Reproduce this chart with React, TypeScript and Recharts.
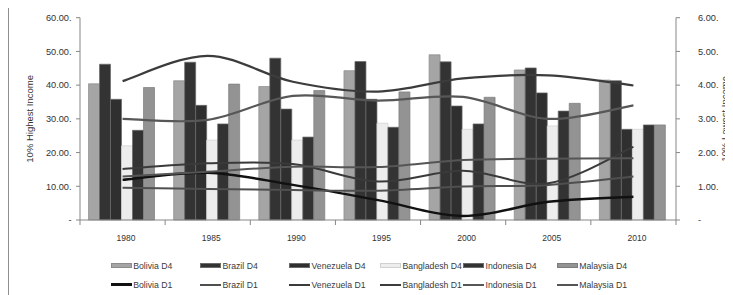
import React from 'react';
import { ComposedChart, Bar, Line, XAxis, YAxis, Legend } from 'recharts';

// ---------- data ----------
const years = ['1980', '1985', '1990', '1995', '2000', '2005', '2010'];

const boliviaD4 = [40.4, 41.3, 39.6, 44.3, 49.0, 44.5, 41.5];
const brazilD4 = [46.2, 46.8, 48.0, 47.0, 46.9, 45.1, 41.3];
const venezuelaD4 = [35.8, 34.0, 32.9, 35.8, 33.8, 37.7, 26.9];
const bangladeshD4 = [22.0, 23.7, 23.7, 28.7, 26.9, 27.9, 26.9];
const indonesiaD4 = [26.6, 28.5, 24.6, 27.5, 28.5, 32.3, 28.2];
const malaysiaD4 = [39.3, 40.3, 38.4, 38.0, 36.4, 34.6, 28.2];

const boliviaD1 = [1.19, 1.4, 1.04, 0.59, 0.12, 0.54, 0.69];
const brazilD1 = [0.96, 0.92, 0.89, 0.87, 0.99, 1.04, 1.29];
const venezuelaD1 = [1.51, 1.68, 1.66, 1.14, 1.46, 1.09, 2.17];
const bangladeshD1 = [4.12, 4.87, 4.1, 3.81, 4.2, 4.29, 3.99];
const indonesiaD1 = [3.0, 2.97, 3.68, 3.54, 3.65, 3.0, 3.4];
const malaysiaD1 = [1.29, 1.43, 1.58, 1.57, 1.78, 1.82, 1.83];

const leftTicks = [0, 10, 20, 30, 40, 50, 60];
const rightTicks = [0, 1, 2, 3, 4, 5, 6];

const leftTitle = '10% Highest Income';
const rightTitle = '10% Lowest Income';

// ---------- series (names + styles) ----------
const barSeries = [
  { name: 'Bolivia D4', values: boliviaD4, fill: '#a5a5a5', stroke: '#8c8c8c' },
  { name: 'Brazil D4', values: brazilD4, fill: '#333333', stroke: '#6a6a6a' },
  { name: 'Venezuela D4', values: venezuelaD4, fill: '#2f2f2f', stroke: '#6a6a6a' },
  { name: 'Bangladesh D4', values: bangladeshD4, fill: '#ededed', stroke: '#d0d0d0' },
  { name: 'Indonesia D4', values: indonesiaD4, fill: '#333333', stroke: '#6a6a6a' },
  { name: 'Malaysia D4', values: malaysiaD4, fill: '#939393', stroke: '#7d7d7d' },
];

const lineSeries = [
  { name: 'Bolivia D1', values: boliviaD1, stroke: '#111111', width: 2.4 },
  { name: 'Brazil D1', values: brazilD1, stroke: '#4f4f4f', width: 2 },
  { name: 'Venezuela D1', values: venezuelaD1, stroke: '#3a3a3a', width: 2 },
  { name: 'Bangladesh D1', values: bangladeshD1, stroke: '#3c3c3c', width: 2.2 },
  { name: 'Indonesia D1', values: indonesiaD1, stroke: '#575757', width: 2.2 },
  { name: 'Malaysia D1', values: malaysiaD1, stroke: '#555555', width: 2 },
];

const data = years.map((year, i) => {
  const row: Record<string, any> = { year };
  barSeries.forEach((s) => (row[s.name] = s.values[i]));
  lineSeries.forEach((s) => (row[s.name] = s.values[i]));
  return row;
});

// ---------- layout ----------
const FONT = '"Liberation Sans", Arial, sans-serif';
const AXIS = '#878787';
const TEXT = '#333333';
const W = 725;
const H = 288;
const legendColumns = [102.7, 192, 281, 372, 455, 548.7];

const fmt = (v: number) => (v === 0 ? '-' : v.toFixed(2) + '.');

// Excel-like smoothed line (Catmull-Rom through the points)
const excelSmooth: any = (context: any) => {
  let pts: number[][] = [];
  return {
    areaStart() {},
    areaEnd() {},
    lineStart() {
      pts = [];
    },
    point(x: number, y: number) {
      pts.push([+x, +y]);
    },
    lineEnd() {
      const n = pts.length;
      if (!n) return;
      context.moveTo(pts[0][0], pts[0][1]);
      for (let i = 0; i < n - 1; i++) {
        const p0 = pts[Math.max(i - 1, 0)];
        const p1 = pts[i];
        const p2 = pts[i + 1];
        const p3 = pts[Math.min(i + 2, n - 1)];
        context.bezierCurveTo(
          p1[0] + (p2[0] - p0[0]) / 6,
          p1[1] + (p2[1] - p0[1]) / 6,
          p2[0] - (p3[0] - p1[0]) / 6,
          p2[1] - (p3[1] - p1[1]) / 6,
          p2[0],
          p2[1]
        );
      }
    },
  };
};

const CatTick = (props: any) => {
  const { x, y, payload, index, visibleTicksCount } = props;
  const half = payload && typeof payload.offset === 'number' && payload.offset > 0 ? payload.offset : 42.57;
  const last = (visibleTicksCount ?? years.length) - 1;
  return (
    <g>
      <line x1={x - half} x2={x - half} y1={y - 5} y2={y} stroke={AXIS} strokeWidth={1} />
      {index === last && <line x1={x + half} x2={x + half} y1={y - 5} y2={y} stroke={AXIS} strokeWidth={1} />}
      <text x={x + 3.5} y={y + 16} textAnchor="middle" fontFamily={FONT} fontSize={8.5} fill={TEXT}>
        {payload.value}
      </text>
    </g>
  );
};

const LeftTitle = (props: any) => {
  const vb = props.viewBox || { x: 0, y: 10.7, width: 72, height: 202.3 };
  const cx = vb.x + 22;
  const cy = vb.y + vb.height / 2;
  return (
    <text x={cx} y={cy} transform={`rotate(-90 ${cx} ${cy})`} textAnchor="middle" dominantBaseline="central" fontFamily={FONT} fontSize={9.5} fill={TEXT}>
      {leftTitle}
    </text>
  );
};

const RightTitle = (props: any) => {
  const vb = props.viewBox || { x: 668, y: 10.7, width: 57, height: 202.3 };
  const cx = vb.x + 49;
  const cy = vb.y + vb.height / 2;
  return (
    <text x={cx} y={cy} transform={`rotate(-90 ${cx} ${cy})`} textAnchor="middle" dominantBaseline="central" fontFamily={FONT} fontSize={9.5} fill={TEXT}>
      {rightTitle}
    </text>
  );
};

const LegendContent = () => (
  <div style={{ position: 'relative', width: W, height: 40, fontFamily: FONT, fontSize: 8.7, color: '#3a3a3a' }}>
    {barSeries.map((s, i) => (
      <div key={s.name} style={{ position: 'absolute', left: legendColumns[i], top: 4, height: 13, display: 'flex', alignItems: 'center', whiteSpace: 'nowrap' }}>
        <span style={{ display: 'inline-block', boxSizing: 'border-box', width: 21, height: 5, background: s.fill, border: `0.5px solid ${s.stroke}`, marginRight: 1.5 }} />
        <span>{s.name}</span>
      </div>
    ))}
    {lineSeries.map((s, i) => (
      <div key={s.name} style={{ position: 'absolute', left: legendColumns[i], top: 23, height: 13, display: 'flex', alignItems: 'center', whiteSpace: 'nowrap' }}>
        <span style={{ display: 'inline-block', width: 21, height: s.name === 'Bolivia D1' ? 2.4 : 2, background: s.stroke, marginRight: 1.5 }} />
        <span>{s.name}</span>
      </div>
    ))}
  </div>
);

export default function App() {
  return (
    <div style={{ position: 'relative', width: W, height: H, marginTop: -1 }}>
      <style>{'html,body{overflow:hidden}'}</style>
      <ComposedChart
        width={W}
        height={H}
        data={data}
        margin={{ top: 10.7, right: 0, bottom: 45, left: 0 }}
        barCategoryGap="10%"
        barGap={0}
      >
        <XAxis
          xAxisId="x"
          dataKey="year"
          height={30}
          axisLine={{ stroke: AXIS }}
          tickLine={false}
          tickSize={5}
          tickMargin={0}
          interval={0}
          tick={<CatTick />}
        />
        <YAxis
          yAxisId="l"
          width={72}
          domain={[0, 60]}
          ticks={leftTicks}
          interval={0}
          tickFormatter={fmt}
          axisLine={{ stroke: AXIS }}
          tickLine={{ stroke: AXIS }}
          tickSize={4}
          tickMargin={4.5}
          tick={{ fontFamily: FONT, fontSize: 9.2, fill: TEXT }}
          label={{ content: <LeftTitle /> }}
        />
        <YAxis
          yAxisId="r"
          orientation="right"
          width={57}
          domain={[0, 6]}
          ticks={rightTicks}
          interval={0}
          tickFormatter={fmt}
          axisLine={{ stroke: AXIS }}
          tickLine={{ stroke: AXIS }}
          tickSize={4}
          tickMargin={18}
          tick={{ fontFamily: FONT, fontSize: 9.2, fill: TEXT, textAnchor: 'start' }}
          label={{ content: <RightTitle /> }}
        />
        {barSeries.map((s) => (
          <Bar
            key={s.name}
            xAxisId="x"
            yAxisId="l"
            dataKey={s.name}
            name={s.name}
            fill={s.fill}
            stroke={s.stroke}
            strokeWidth={0.7}
            isAnimationActive={false}
          />
        ))}
        {lineSeries.map((s) => (
          <Line
            key={s.name}
            xAxisId="x"
            yAxisId="r"
            dataKey={s.name}
            name={s.name}
            type={excelSmooth}
            stroke={s.stroke}
            strokeWidth={s.width}
            dot={false}
            activeDot={false}
            isAnimationActive={false}
          />
        ))}
        <Legend
          verticalAlign="middle"
          layout="horizontal"
          align="center"
          content={<LegendContent />}
          wrapperStyle={{ top: 248, left: 0, width: W, height: 40 }}
        />
      </ComposedChart>
      <div
        style={{
          position: 'absolute',
          left: 0,
          top: 0,
          width: W,
          height: H,
          borderTop: '1px solid #8f8f8f',
          borderLeft: '1px solid #8f8f8f',
          boxSizing: 'border-box',
          pointerEvents: 'none',
        }}
      />
    </div>
  );
}
